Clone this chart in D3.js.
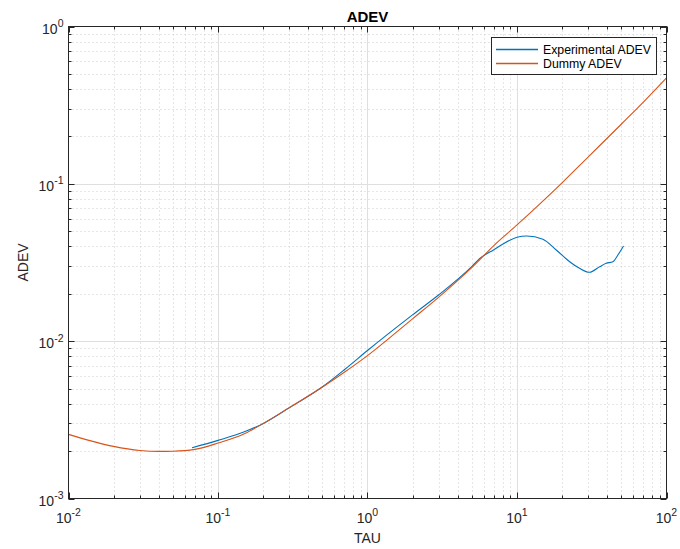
<!DOCTYPE html>
<html>
<head>
<meta charset="utf-8">
<script src="https://cdn.jsdelivr.net/npm/d3@7"></script>
<style>
  html, body { margin: 0; padding: 0; background: #ffffff; }
  svg { display: block; font-family: "Liberation Sans", Arial, Helvetica, sans-serif; }
</style>
</head>
<body>
<svg id="chart" width="680" height="549"></svg>
<script>
// Averaging times and Allan deviation of the reference (dummy) model
const tauDummy = [0.01, 0.02, 0.03, 0.04, 0.05, 0.07, 0.1, 0.15, 0.2, 0.3, 0.5, 0.7,
                  1, 2, 3, 5, 7, 10, 20, 30, 50, 70, 100];
const adevDummy = [0.002556, 0.002144, 0.002021, 0.001992, 0.001997, 0.002051, 0.002250,
                   0.002580, 0.002991, 0.003782, 0.005116, 0.006345, 0.008096, 0.013869,
                   0.019065, 0.029427, 0.040515, 0.054819, 0.10148, 0.14859, 0.24001,
                   0.33044, 0.47118];

// Measured Allan deviation
const tauExp = [0.067, 0.1, 0.15, 0.2, 0.3, 0.5, 0.7, 1, 2, 3, 5, 5.64, 7, 8, 10, 11.6,
                14.9, 18.3, 22.5, 26.2, 30.6, 35.7, 39.5, 43.8, 47.3, 51.6];
const adevExp = [0.002103, 0.002341, 0.002652, 0.002991, 0.003771, 0.005131, 0.006582,
                 0.008725, 0.014686, 0.019716, 0.029904, 0.033530, 0.038155, 0.041297,
                 0.045751, 0.046636, 0.044442, 0.037996, 0.031995, 0.029042, 0.027395,
                 0.029721, 0.031251, 0.031995, 0.035295, 0.040282];

// Decade exponents used for the tick labels
const xTickExponents = [-2, -1, 0, 1, 2];
const yTickExponents = [-3, -2, -1, 0];

const seriesNames = ["Experimental ADEV", "Dummy ADEV"];
const seriesColors = ["#0072BD", "#D95319"];

const svg = d3.select("#chart");
const plotLeft = 68.5, plotRight = 666.5, plotTop = 26.5, plotBottom = 498.5;
const axisColor = "#262626";

const x = d3.scaleLog().domain([1e-2, 1e2]).range([plotLeft, plotRight]);
const y = d3.scaleLog().domain([1e-3, 1]).range([plotBottom, plotTop]);

const majorX = xTickExponents.map(e => Math.pow(10, e));
const majorY = yTickExponents.map(e => Math.pow(10, e));
const isMajor = v => Math.abs(Math.log10(v) - Math.round(Math.log10(v))) < 1e-9;
const minorX = x.ticks().filter(v => !isMajor(v));
const minorY = y.ticks().filter(v => !isMajor(v));

const g = svg.append("g");

// minor grid (dotted)
const minorGrid = g.append("g")
  .attr("stroke", "#cccccc").attr("stroke-width", 1)
  .attr("stroke-dasharray", "1,3").attr("fill", "none");
minorX.forEach(v => {
  const px = Math.round(x(v)) + 0.5;
  minorGrid.append("line").attr("x1", px).attr("x2", px).attr("y1", plotTop).attr("y2", plotBottom);
});
minorY.forEach(v => {
  const py = Math.round(y(v)) + 0.5;
  minorGrid.append("line").attr("x1", plotLeft).attr("x2", plotRight).attr("y1", py).attr("y2", py);
});

// major grid (solid)
const majorGrid = g.append("g").attr("stroke", "#dfdfdf").attr("stroke-width", 1);
majorX.slice(1, -1).forEach(v => {
  const px = Math.round(x(v)) + 0.5;
  majorGrid.append("line").attr("x1", px).attr("x2", px).attr("y1", plotTop).attr("y2", plotBottom);
});
majorY.slice(1, -1).forEach(v => {
  const py = Math.round(y(v)) + 0.5;
  majorGrid.append("line").attr("x1", plotLeft).attr("x2", plotRight).attr("y1", py).attr("y2", py);
});

// data lines
const line = d3.line()
  .x(d => x(d[0])).y(d => y(d[1]))
  .curve(d3.curveMonotoneX);

svg.append("defs").append("clipPath").attr("id", "plotArea")
  .append("rect").attr("x", plotLeft).attr("y", plotTop)
  .attr("width", plotRight - plotLeft).attr("height", plotBottom - plotTop);

const lines = g.append("g").attr("clip-path", "url(#plotArea)").attr("fill", "none")
  .attr("stroke-width", 1.1).attr("stroke-linejoin", "round");
lines.append("path")
  .datum(d3.zip(tauExp, adevExp))
  .attr("stroke", seriesColors[0]).attr("d", line);
lines.append("path")
  .datum(d3.zip(tauDummy, adevDummy))
  .attr("stroke", seriesColors[1]).attr("d", line);

// axes box with inward ticks on all four sides
const axes = g.append("g").attr("stroke", axisColor).attr("fill", "none");
axes.append("rect").attr("x", plotLeft).attr("y", plotTop)
  .attr("width", plotRight - plotLeft).attr("height", plotBottom - plotTop).attr("stroke-width", 1);

const majorLen = 6, minorLen = 3;
function xTick(v, len) {
  const px = Math.round(x(v)) + 0.5;
  axes.append("line").attr("x1", px).attr("x2", px).attr("y1", plotBottom).attr("y2", plotBottom - len);
  axes.append("line").attr("x1", px).attr("x2", px).attr("y1", plotTop).attr("y2", plotTop + len);
}
function yTick(v, len) {
  const py = Math.round(y(v)) + 0.5;
  axes.append("line").attr("x1", plotLeft).attr("x2", plotLeft + len).attr("y1", py).attr("y2", py);
  axes.append("line").attr("x1", plotRight).attr("x2", plotRight - len).attr("y1", py).attr("y2", py);
}
majorX.forEach(v => xTick(v, majorLen));
minorX.forEach(v => xTick(v, minorLen));
majorY.forEach(v => yTick(v, majorLen));
minorY.forEach(v => yTick(v, minorLen));

// tick labels written as 10 with a superscript exponent
function powerLabel(sel, exp) {
  sel.append("tspan").text("10");
  sel.append("tspan").attr("dy", -6.5).attr("font-size", 10.5).text(String(exp));
}
const labels = svg.append("g").attr("fill", axisColor).attr("font-size", 14);
xTickExponents.forEach(e => {
  const t = labels.append("text")
    .attr("x", x(Math.pow(10, e)))
    .attr("y", plotBottom + 24)
    .attr("text-anchor", "middle");
  powerLabel(t, e);
});
yTickExponents.forEach(e => {
  const t = labels.append("text")
    .attr("x", plotLeft - 5)
    .attr("y", y(Math.pow(10, e)) + 7)
    .attr("text-anchor", "end");
  powerLabel(t, e);
});

// title and axis labels
svg.append("text")
  .attr("x", (plotLeft + plotRight) / 2).attr("y", 21.5)
  .attr("text-anchor", "middle").attr("font-size", 15).attr("font-weight", "bold")
  .attr("fill", "#000000").text("ADEV");
svg.append("text")
  .attr("x", (plotLeft + plotRight) / 2).attr("y", 543)
  .attr("text-anchor", "middle").attr("font-size", 14)
  .attr("fill", axisColor).text("TAU");
svg.append("text")
  .attr("transform", `translate(28,${(plotTop + plotBottom) / 2}) rotate(-90)`)
  .attr("text-anchor", "middle").attr("font-size", 14)
  .attr("fill", axisColor).text("ADEV");

// legend
const legend = svg.append("g");
legend.append("rect")
  .attr("x", 491.5).attr("y", 37.5).attr("width", 165).attr("height", 37)
  .attr("fill", "#ffffff").attr("stroke", axisColor).attr("stroke-width", 1);
seriesNames.forEach((name, i) => {
  const ly = 49.5 + i * 14;
  legend.append("line")
    .attr("x1", 496).attr("x2", 538).attr("y1", ly).attr("y2", ly)
    .attr("stroke", seriesColors[i]).attr("stroke-width", 1.3);
  legend.append("text")
    .attr("x", 543).attr("y", ly + 4.3)
    .attr("font-size", 12.3).attr("fill", "#000000").text(name);
});
</script>
</body>
</html>
